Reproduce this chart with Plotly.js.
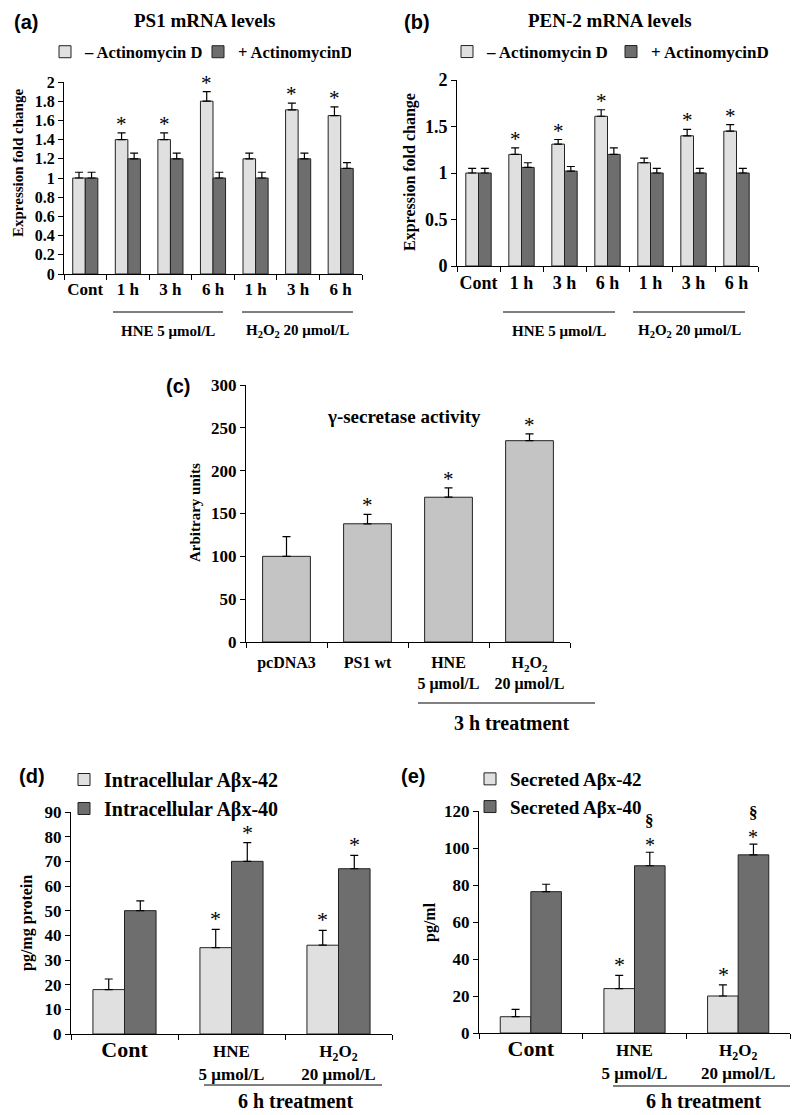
<!DOCTYPE html>
<html><head><meta charset="utf-8">
<script src="https://cdn.plot.ly/plotly-3.0.1.min.js"></script>
<style>html,body{margin:0;padding:0;background:#fff}</style>
</head><body><div id="chart" style="width:800px;height:1115px"></div>
<script>
// ---------- DATA ----------
const catsAB = ['Cont','HNE 1 h','HNE 3 h','HNE 6 h','H2O2 1 h','H2O2 3 h','H2O2 6 h'];
const ticksAB = ['Cont','1 h','3 h','6 h','1 h','3 h','6 h'];
const legendMinus = '– Actinomycin D';
const legendPlus = '+ ActinomycinD';

const ps1Minus    = [1.0, 1.4, 1.4, 1.8, 1.2, 1.71, 1.65];
const ps1MinusErr = [0.06, 0.07, 0.07, 0.1, 0.06, 0.07, 0.09];
const ps1Plus     = [1.0, 1.2, 1.2, 1.0, 1.0, 1.2, 1.1];
const ps1PlusErr  = [0.06, 0.06, 0.06, 0.06, 0.06, 0.06, 0.06];
const ps1Sig      = [0, 1, 1, 1, 0, 1, 1];

const pen2Minus    = [1.0, 1.2, 1.31, 1.61, 1.11, 1.4, 1.45];
const pen2MinusErr = [0.05, 0.07, 0.05, 0.07, 0.05, 0.07, 0.07];
const pen2Plus     = [1.0, 1.06, 1.02, 1.2, 1.0, 1.0, 1.0];
const pen2PlusErr  = [0.05, 0.05, 0.05, 0.07, 0.05, 0.05, 0.05];
const pen2Sig      = [0, 1, 1, 1, 0, 1, 1];

const catsC = ['pcDNA3','PS1 wt','HNE','H2O2'];
const ticksC = ['pcDNA3','PS1 wt','HNE<br>5 μmol/L','H<sub>2</sub>O<sub>2</sub><br>20 μmol/L'];
const gammaVals = [100, 138, 169, 235];
const gammaErr  = [23, 11, 11, 8];
const gammaSig  = [0, 1, 1, 1];

const catsDE = ['Cont','HNE','H2O2'];
const ticksDE = ['<span style="font-size:22px">Cont</span>','HNE<br>5 μmol/L','H<sub>2</sub>O<sub>2</sub><br>20 μmol/L'];
const intra42 = [18, 35, 36];
const intra42Err = [4.3, 7.4, 6];
const intra40 = [50, 70, 67];
const intra40Err = [4, 7.6, 5.4];
const intra42Sig = [0, 1, 1];
const intra40Sig = [0, 1, 1];

const sec42 = [8.8, 24, 20];
const sec42Err = [4, 7.2, 6];
const sec40 = [76.4, 90.4, 96.3];
const sec40Err = [4, 7.3, 5.8];
const sec42Sig = [0, 1, 1];
const sec40Sig = [0, 1, 1];
const sec40Sect = [0, 1, 1];

// ---------- STYLE ----------
const SERIF = 'Liberation Serif, Times New Roman, serif';
const SANS = 'Liberation Sans, Arial, sans-serif';
const LIGHT = '#e0e0e0', DARK = '#6e6e6e', MID = '#c4c4c4';
const W = 800, H = 1115;
const X = px => px / W;
const Y = py => 1 - py / H;

function bar(x, y, err, name, color, xa, ya, leg, show, group) {
  return {
    type: 'bar', x: x, y: y, name: name, xaxis: xa, yaxis: ya, legend: leg,
    showlegend: show, legendgroup: group,
    marker: {color: color, line: {color: '#222', width: 1}},
    error_y: {type: 'data', array: err, arrayminus: err.map(() => 0), symmetric: false,
              color: '#000', thickness: 1.2, width: 4},
    hoverinfo: 'skip'
  };
}

const data = [
  bar(catsAB, ps1Minus, ps1MinusErr, legendMinus, LIGHT, 'x', 'y', 'legend', true, 'a1'),
  bar(catsAB, ps1Plus, ps1PlusErr, legendPlus, DARK, 'x', 'y', 'legend', true, 'a2'),
  bar(catsAB, pen2Minus, pen2MinusErr, legendMinus, LIGHT, 'x2', 'y2', 'legend2', true, 'b1'),
  bar(catsAB, pen2Plus, pen2PlusErr, legendPlus, DARK, 'x2', 'y2', 'legend2', true, 'b2'),
  bar(catsC, gammaVals, gammaErr, 'γ-secretase', MID, 'x3', 'y3', 'legend', false, 'c'),
  bar(catsDE, intra42, intra42Err, 'Intracellular Aβx-42', LIGHT, 'x4', 'y4', 'legend3', true, 'd1'),
  bar(catsDE, intra40, intra40Err, 'Intracellular Aβx-40', DARK, 'x4', 'y4', 'legend3', true, 'd2'),
  bar(catsDE, sec42, sec42Err, 'Secreted Aβx-42', LIGHT, 'x5', 'y5', 'legend4', true, 'e1'),
  bar(catsDE, sec40, sec40Err, 'Secreted Aβx-40', DARK, 'x5', 'y5', 'legend4', true, 'e2')
];

function xax(dom, anchor, cats, ticks, size, standoff) {
  return {domain: dom, anchor: anchor, type: 'category', tickson: 'boundaries',
    tickmode: 'array', tickvals: cats, ticktext: ticks, tickangle: 0,
    ticklabelstandoff: standoff || 0,
    ticks: 'outside', ticklen: 5, tickcolor: '#000', showline: true, linecolor: '#000', linewidth: 1,
    showgrid: false, zeroline: false, fixedrange: true,
    tickfont: {family: SERIF, size: size, color: '#000', weight: 'bold'}};
}
function yax(dom, anchor, range, dtick, size) {
  return {domain: dom, anchor: anchor, range: range, dtick: dtick,
    ticks: 'outside', ticklen: 5, tickcolor: '#000', showline: true, linecolor: '#000', linewidth: 1,
    showgrid: false, zeroline: false, fixedrange: true,
    tickfont: {family: SERIF, size: size, color: '#000', weight: 'bold'}};
}

const annotations = [];
function txt(x, y, text, size, family, extra) {
  annotations.push(Object.assign({xref: 'paper', yref: 'paper', x: X(x), y: Y(y), text: text,
    showarrow: false, xanchor: 'center', yanchor: 'middle',
    font: {family: family || SERIF, size: size, color: '#000', weight: 'bold'}}, extra || {}));
}
function stars(xa, ya, vals, errs, sig, off, glyph, shift, size, weight) {
  sig.forEach((s, i) => {
    if (!s) return;
    annotations.push({xref: xa, yref: ya, x: i + off, y: vals[i] + errs[i], text: glyph,
      showarrow: false, xanchor: 'center', yanchor: 'bottom', yshift: shift,
      font: {family: SERIF, size: size, color: '#000', weight: weight || 'normal'}});
  });
}

// panel titles & labels
txt(26, 22, '(a)', 20, SANS);
txt(205, 20, 'PS1 mRNA levels', 19);
txt(417, 22, '(b)', 20, SANS);
txt(610, 20, 'PEN-2 mRNA levels', 19);
txt(178, 386, '(c)', 20, SANS);
txt(404, 417, 'γ-secretase activity', 19);
txt(32, 776, '(d)', 20, SANS);
txt(413, 776, '(e)', 20, SANS);

// y titles
txt(18, 163, 'Expression fold change', 15, SERIF, {textangle: -90});
txt(410, 172, 'Expression fold change', 16, SERIF, {textangle: -90});
txt(195, 513, 'Arbitrary units', 15, SERIF, {textangle: -90});
txt(27, 923, 'pg/mg protein', 16, SERIF, {textangle: -90});
txt(430, 922, 'pg/ml', 16, SERIF, {textangle: -90});

// group labels
txt(168, 331, 'HNE 5 μmol/L', 15);
txt(297, 331, 'H<sub>2</sub>O<sub>2</sub> 20 μmol/L', 15);
txt(559, 331, 'HNE 5 μmol/L', 15);
txt(689, 331, 'H<sub>2</sub>O<sub>2</sub> 20 μmol/L', 15);
txt(511, 723, '3 h treatment', 20);
txt(295, 1101, '6 h treatment', 20);
txt(703, 1101, '6 h treatment', 20);

// significance marks
const offAB = 0.148, offDE = 0.145;
stars('x', 'y', ps1Minus, ps1MinusErr, ps1Sig, -offAB, '*', -5, 21);
stars('x2', 'y2', pen2Minus, pen2MinusErr, pen2Sig, -offAB, '*', -5, 21);
stars('x3', 'y3', gammaVals, gammaErr, gammaSig, 0, '*', -5, 21);
stars('x4', 'y4', intra42, intra42Err, intra42Sig, -offDE, '*', -4, 22);
stars('x4', 'y4', intra40, intra40Err, intra40Sig, offDE, '*', -4, 22);
stars('x5', 'y5', sec42, sec42Err, sec42Sig, -offDE, '*', -4, 22);
stars('x5', 'y5', sec40, sec40Err, sec40Sig, offDE, '*', -6, 20);
stars('x5', 'y5', sec40, sec40Err, sec40Sect, offDE, '§', 20, 17, 'bold');

const line = (x0, x1, y) => ({type: 'line', xref: 'paper', yref: 'paper',
  x0: X(x0), x1: X(x1), y0: Y(y), y1: Y(y), line: {color: '#000', width: 1}});
const shapes = [
  line(113, 223, 312), line(242, 353, 312),
  line(503, 615, 312), line(633, 745, 312),
  line(418, 595, 703),
  line(204, 382, 1085), line(613, 790, 1086)
];

const legBase = {bgcolor: 'rgba(0,0,0,0)', borderwidth: 0, traceorder: 'normal',
  font: {family: SERIF, size: 17, color: '#000', weight: 'bold'}, itemclick: false, itemdoubleclick: false};

const layout = {
  width: W, height: H, margin: {l: 0, r: 0, t: 0, b: 0},
  paper_bgcolor: '#fff', plot_bgcolor: 'rgba(0,0,0,0)',
  barmode: 'group',
  bargap: 0.41, bargroupgap: 0,
  xaxis: xax([X(64), X(362)], 'y', catsAB, ticksAB, 17),
  yaxis: yax([Y(274), Y(82)], 'x', [0, 2], 0.2, 16),
  xaxis2: xax([X(457), X(758)], 'y2', catsAB, ticksAB, 18),
  yaxis2: yax([Y(266), Y(80)], 'x2', [0, 2], 0.5, 18),
  xaxis3: xax([X(246), X(570)], 'y3', catsC, ticksC, 16, 6),
  yaxis3: yax([Y(642), Y(385)], 'x3', [0, 300], 50, 17),
  xaxis4: xax([X(71), X(392)], 'y4', catsDE, ticksDE, 17, 2),
  yaxis4: yax([Y(1034), Y(812)], 'x4', [0, 90], 10, 17),
  xaxis5: xax([X(479), X(790)], 'y5', catsDE, ticksDE, 17, 2),
  yaxis5: yax([Y(1033), Y(811)], 'x5', [0, 120], 20, 17),
  legend: Object.assign({}, legBase, {orientation: 'h', x: X(45), y: Y(52), xanchor: 'left', yanchor: 'middle',
    entrywidth: 108, font: {family: SERIF, size: 16.5, color: '#000', weight: 'bold'}}),
  legend2: Object.assign({}, legBase, {orientation: 'h', x: X(447), y: Y(52), xanchor: 'left', yanchor: 'middle', entrywidth: 119}),
  legend3: Object.assign({}, legBase, {orientation: 'v', x: X(64), y: Y(760), xanchor: 'left', yanchor: 'top',
    tracegroupgap: 2, font: {family: SERIF, size: 20, color: '#000', weight: 'bold'}}),
  legend4: Object.assign({}, legBase, {orientation: 'v', x: X(470), y: Y(760), xanchor: 'left', yanchor: 'top',
    tracegroupgap: 2, font: {family: SERIF, size: 19, color: '#000', weight: 'bold'}}),
  annotations: annotations,
  shapes: shapes,
  showlegend: true
};

Plotly.newPlot('chart', data, layout, {displayModeBar: false, staticPlot: true});
</script></body></html>
